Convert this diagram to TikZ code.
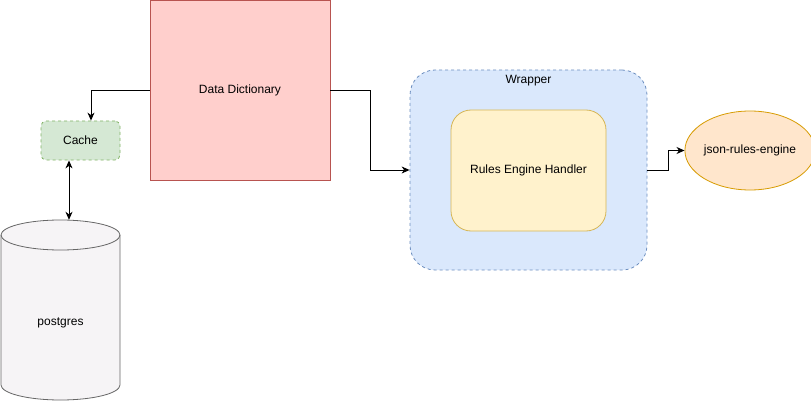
\documentclass[tikz,border=0pt]{standalone}
\usepackage{fontspec}
\setmainfont{Liberation Sans}
\usetikzlibrary{arrows.meta,shapes.geometric}
\definecolor{ddfill}{HTML}{FFCFCC}\definecolor{ddline}{HTML}{B85450}
\definecolor{cafill}{HTML}{D5E8D4}\definecolor{caline}{HTML}{82B366}
\definecolor{wrfill}{HTML}{DAE8FC}\definecolor{wrline}{HTML}{6C8EBF}
\definecolor{rhfill}{HTML}{FFF2CC}\definecolor{rhline}{HTML}{D6B656}
\definecolor{jsfill}{HTML}{FFE6CC}\definecolor{jsline}{HTML}{D79B00}
\definecolor{pgfillc}{HTML}{F6F4F6}\definecolor{pgline}{HTML}{666666}
\begin{document}
\begin{tikzpicture}[x=1pt,y=-1pt,
  every node/.style={font=\fontsize{12}{14}\selectfont, text=black, inner sep=0pt},
  box/.style={draw, line width=0.8pt, minimum width=#1},
  conn/.style={draw=black, line width=0.9pt, -{Stealth[length=8pt,width=7pt,inset=2.5pt]}},
  dconn/.style={draw=black, line width=0.9pt, {Stealth[length=8pt,width=7pt,inset=2.5pt]}-{Stealth[length=8pt,width=7pt,inset=2.5pt]}},
  dsh/.style={dash pattern=on 3pt off 3pt}]
\useasboundingbox (0,0) rectangle (811,401);
% Data Dictionary
\node[box=180pt, minimum height=180pt, fill=ddfill, draw=ddline] (dd) at (240,90) {Data Dictionary};
% Cache
\node[box=79pt, minimum height=39pt, fill=cafill, draw=caline, rounded corners=5pt, dsh] (cache) at (80.5,140.5) {Cache};
% postgres
\node[minimum width=119pt, minimum height=180pt] (pg) at (60.5,310) {};
\fill[pgfillc, draw=pgline, line width=0.8pt]
  (1,235) -- (1,385)
  arc[start angle=180, end angle=0, x radius=59.5, y radius=15]
  -- (120,235)
  arc[start angle=0, end angle=-180, x radius=59.5, y radius=15] -- cycle;
\draw[pgline, line width=0.8pt] (1,235)
  arc[start angle=180, end angle=0, x radius=59.5, y radius=15];
\node at (60.5,323) {postgres};
% Wrapper
\node[box=237pt, minimum height=200pt, fill=wrfill, draw=wrline, rounded corners=25pt, dsh] (wr) at (528.5,170) {};
\node at (528.5,81) (wrlabel) {Wrapper};
% Rules Engine Handler
\node[box=155pt, minimum height=121pt, fill=rhfill, draw=rhline, rounded corners=20pt] (rh) at (528.5,170.5) {Rules Engine Handler};
% json-rules-engine
\node[ellipse, draw=jsline, fill=jsfill, line width=0.8pt, minimum width=120pt, minimum height=79pt] (js) at (750,150.5) {json-rules-engine};
% connectors
\draw[conn] (dd.west) -| ([xshift=10.5pt]cache.north);
\draw[conn] (dd.east) -- ++(40,0) |- (wr.west);
\draw[conn] (wr.east) -- ++(21,0) |- (js.west);
\draw[dconn] ([xshift=-11.5pt]cache.south) -- ([xshift=-11.5pt]cache.south |- pg.north);
\end{tikzpicture}
\end{document}
